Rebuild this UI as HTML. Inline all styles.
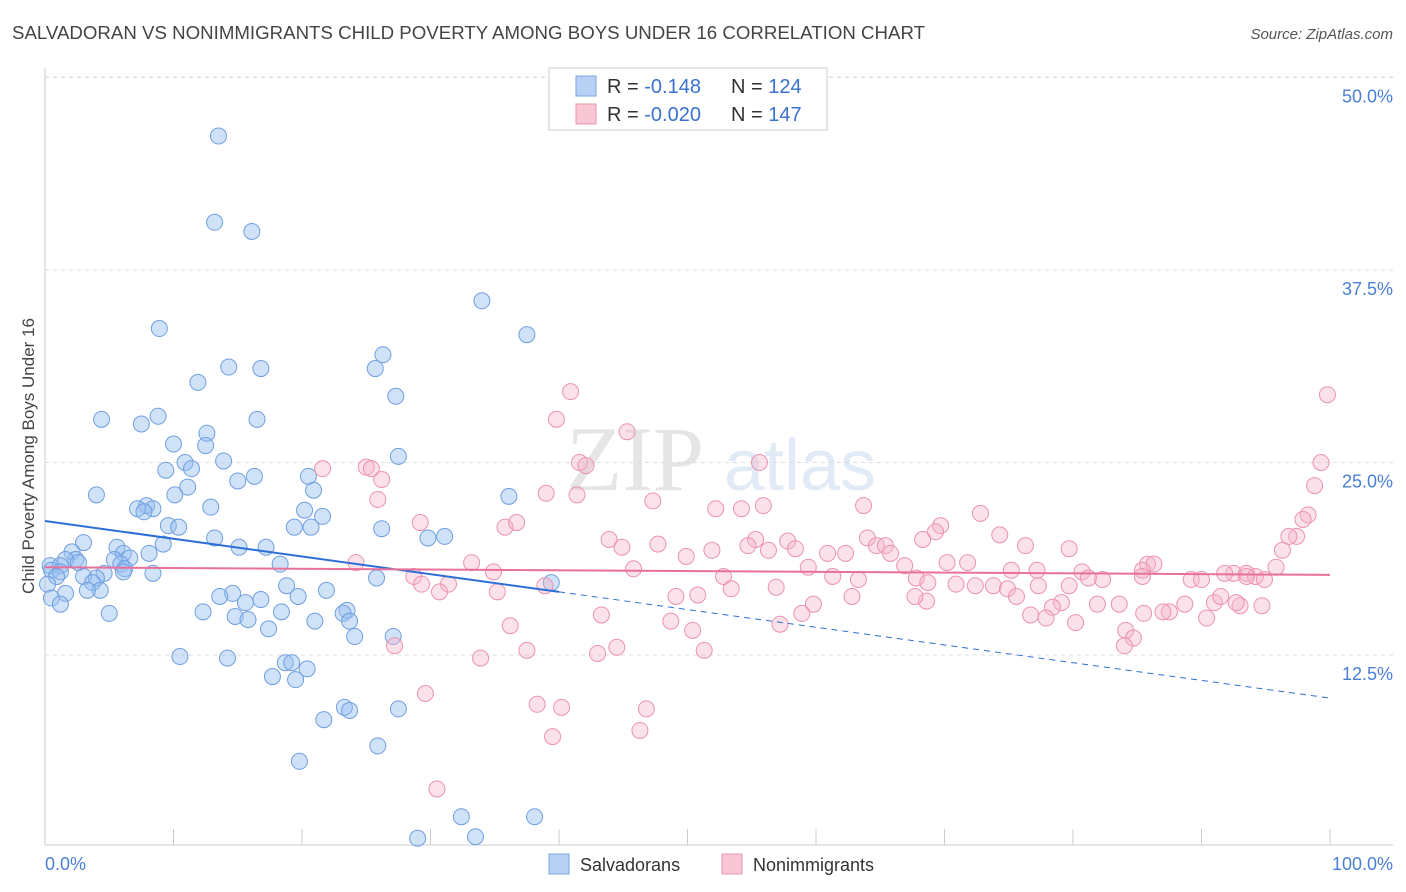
<!DOCTYPE html>
<html><head><meta charset="utf-8">
<style>
body{margin:0;background:#fff;width:1406px;height:892px;overflow:hidden;font-family:"Liberation Sans",sans-serif}
svg{display:block}
</style></head>
<body>
<svg id="chart" width="1406" height="892">
<text x="12" y="39" font-size="18" fill="#444" textLength="913" lengthAdjust="spacingAndGlyphs">SALVADORAN VS NONIMMIGRANTS CHILD POVERTY AMONG BOYS UNDER 16 CORRELATION CHART</text>
<text x="1393" y="39" font-size="15" fill="#555" font-style="italic" text-anchor="end">Source: ZipAtlas.com</text>
<g opacity="0.25">
<text x="635" y="490" font-size="92" font-family="Liberation Serif,serif" fill="#999" text-anchor="middle">ZIP</text>
<text x="800" y="490" font-size="72" fill="#8ab0e0" text-anchor="middle">atlas</text>
</g>
<g id="grid"></g>
<g id="axes"></g>
<g id="points"></g>
<g id="lines"></g>
<text transform="translate(34,456) rotate(-90)" font-size="17" fill="#444" text-anchor="middle">Child Poverty Among Boys Under 16</text>
<text x="45" y="870" font-size="18" fill="#4a7fd6">0.0%</text>
<text x="1393" y="870" font-size="18" fill="#4a7fd6" text-anchor="end">100.0%</text>
<g>
<rect x="549" y="68" width="278" height="62" fill="#fff" stroke="#ccc"/>
<rect x="576" y="76" width="20" height="20" fill="#b7d1f4" stroke="#7aa6e2"/>
<rect x="576" y="104" width="20" height="20" fill="#f8c6d4" stroke="#e897b0"/>
<text x="607" y="93" font-size="20" fill="#333">R = <tspan fill="#3a72d0">-0.148</tspan><tspan x="731">N = </tspan><tspan fill="#3a72d0">124</tspan></text>
<text x="607" y="121" font-size="20" fill="#333">R = <tspan fill="#3a72d0">-0.020</tspan><tspan x="731">N = </tspan><tspan fill="#3a72d0">147</tspan></text>
</g>
<g>
<rect x="549" y="854" width="20" height="20" fill="#b7d1f4" stroke="#7aa6e2"/>
<text x="580" y="871" font-size="18" fill="#333">Salvadorans</text>
<text x="753" y="871" font-size="18" fill="#333">Nonimmigrants</text>
<rect x="722" y="854" width="20" height="20" fill="#f8c6d4" stroke="#e897b0"/>
</g>
</svg>
<script>
const yTicks=[12.5,25,37.5,50];
const xTicks=[0,10,20,30,40,50,60,70,80,90,100];
const blueX=[13.5,13.2,16.1,34.0,8.9,37.5,26.3,14.3,16.8,11.9,25.7,27.3,4.4,8.8,7.5,16.5,12.6,10.0,12.5,27.5,10.9,13.9,9.4,11.4,16.3,15.0,20.5,4.0,11.1,10.1,20.9,36.1,7.9,7.2,8.4,12.9,7.7,20.2,21.6,9.6,10.4,19.4,20.7,26.2,29.8,31.1,13.2,9.2,3.0,15.1,17.2,2.1,8.1,5.6,6.1,2.4,5.4,6.6,1.6,2.6,5.9,18.3,0.4,1.2,6.2,0.5,1.2,8.4,6.1,4.6,3.0,25.8,39.4,0.9,4.0,3.7,18.8,0.2,4.3,3.3,21.9,1.6,0.5,14.6,13.6,1.2,19.7,15.6,16.8,23.5,23.2,12.3,18.4,5.0,14.8,15.8,21.0,23.7,17.4,24.1,27.1,10.5,14.2,18.7,19.2,20.4,17.7,19.5,23.3,23.7,27.5,21.7,25.9,19.8,32.4,29.0,33.5,38.1];
const blueY=[46.2,40.6,40.0,35.5,33.7,33.3,32.0,31.2,31.1,30.2,31.1,29.3,27.8,28.0,27.5,27.8,26.9,26.2,26.1,25.4,25.0,25.1,24.5,24.6,24.1,23.8,24.1,22.9,23.4,22.9,23.2,22.8,22.2,22.0,22.0,22.1,21.8,21.9,21.5,20.9,20.8,20.8,20.8,20.7,20.1,20.2,20.1,19.7,19.8,19.5,19.5,19.2,19.1,19.5,19.1,18.7,18.7,18.8,18.7,18.5,18.4,18.4,18.3,18.3,18.1,18.0,17.9,17.8,17.9,17.8,17.6,17.5,17.2,17.6,17.5,17.2,17.0,17.1,16.7,16.7,16.7,16.5,16.2,16.5,16.3,15.8,16.3,15.9,16.1,15.4,15.2,15.3,15.3,15.2,15.0,14.8,14.7,14.7,14.2,13.7,13.7,12.4,12.3,12.0,12.0,11.6,11.1,10.9,9.1,8.9,9.0,8.3,6.6,5.6,2.0,0.6,0.7,2.0];
const pinkX=[40.9,99.8,39.8,45.3,21.6,25.0,41.6,42.1,55.6,99.3,25.4,26.2,39.0,41.4,47.3,25.9,98.8,52.2,54.2,55.9,63.7,72.8,98.3,35.8,36.7,29.2,69.7,69.3,97.9,97.4,96.8,43.9,64.0,55.3,57.8,44.9,47.7,54.7,74.3,76.3,79.7,96.3,51.9,49.9,56.3,58.4,64.7,65.4,65.8,60.9,62.3,68.3,33.2,24.2,45.8,70.2,71.8,85.8,86.3,59.4,66.9,85.4,75.2,77.2,80.7,92.5,93.5,94.2,91.8,95.8,94.9,93.5,34.9,28.7,52.8,61.3,63.3,67.8,82.3,89.2,90.0,81.2,85.4,70.9,68.7,72.4,73.8,74.9,77.3,79.7,29.3,38.9,31.4,56.9,53.4,30.7,35.2,49.1,50.8,62.8,68.6,81.9,83.6,91.0,91.5,79.1,78.4,75.6,59.8,67.7,88.7,87.5,93.0,94.7,87.0,85.5,90.4,92.7,43.3,58.9,76.7,77.9,80.2,57.2,36.2,48.7,50.4,84.1,84.7,84.0,27.2,43.0,44.5,37.5,51.3,33.9,29.6,38.3,40.2,46.8,39.5,46.3,30.5];
const pinkY=[29.6,29.4,27.8,27.0,24.6,24.7,25.0,24.8,25.0,25.0,24.6,23.9,23.0,22.9,22.5,22.6,23.5,22.0,22.0,22.2,22.2,21.7,21.6,20.8,21.1,21.1,20.9,20.5,21.3,20.2,20.2,20.0,20.1,20.0,19.9,19.5,19.7,19.6,20.3,19.6,19.4,19.3,19.3,18.9,19.3,19.4,19.6,19.6,19.1,19.1,19.1,20.0,18.5,18.5,18.1,18.5,18.5,18.4,18.4,18.2,18.3,18.0,18.0,18.0,17.9,17.8,17.8,17.6,17.8,18.2,17.4,17.6,17.9,17.6,17.6,17.6,17.4,17.5,17.4,17.4,17.4,17.5,17.6,17.1,17.2,17.0,17.0,16.8,17.0,17.0,17.1,17.0,17.1,16.9,16.8,16.6,16.6,16.3,16.4,16.3,16.0,15.8,15.8,15.9,16.3,15.9,15.6,16.3,15.8,16.3,15.8,15.3,15.7,15.7,15.3,15.2,14.9,15.9,15.1,15.2,15.1,14.9,14.6,14.5,14.4,14.7,14.1,14.1,13.6,13.1,13.1,12.6,13.0,12.8,12.8,12.3,10.0,9.3,9.1,9.0,7.2,7.6,3.8];
const blueTrend=[21.2,9.7];
const pinkTrend=[18.2,17.7];
const blueSolidEnd=40;
const NS='http://www.w3.org/2000/svg';
const X=v=>45+v*12.85, Y=v=>847.5-v*15.4;
function mk(tag,attrs,parent){const e=document.createElementNS(NS,tag);for(const k in attrs)e.setAttribute(k,attrs[k]);parent.appendChild(e);return e;}
const grid=document.getElementById('grid'),axes=document.getElementById('axes'),pts=document.getElementById('points'),lines=document.getElementById('lines');
mk('line',{x1:45,y1:Y(50)-0.5,x2:1393,y2:Y(50)-0.5,stroke:'#ddd','stroke-dasharray':'4,4'},grid);
yTicks.forEach(t=>{
 const l=mk('line',{x1:45,y1:Y(t),x2:1393,y2:Y(t),stroke:'#ddd','stroke-dasharray':'4,4'},grid);
 
 
 const tx=mk('text',{x:1393,y:Y(t)+25,'font-size':18,fill:'#4a7fd6','text-anchor':'end'},grid);
 tx.textContent=t.toFixed(1)+'%';
 
 
});
const xa=mk('line',{x1:45,y1:845,x2:1393,y2:845,stroke:'#ccc'},axes);


const ya=mk('line',{x1:45,y1:68,x2:45,y2:845,stroke:'#ccc'},axes);


xTicks.forEach(t=>{
 const l=mk('line',{x1:X(t),y1:829,x2:X(t),y2:845,stroke:'#ccc'},axes);
 
 
});
blueX.forEach((v,i)=>{
 const c=mk('circle',{cx:X(v),cy:Y(blueY[i]),r:8,fill:'rgba(150,190,240,0.45)',stroke:'#6f9fe0','stroke-width':1},pts);
 
 
});
pinkX.forEach((v,i)=>{
 const c=mk('circle',{cx:X(v),cy:Y(pinkY[i]),r:8,fill:'rgba(245,180,200,0.4)',stroke:'#eb93b0','stroke-width':1},pts);
 
 
});
const bAt=x=>blueTrend[0]+(blueTrend[1]-blueTrend[0])*x/100;
const b1=mk('line',{x1:X(0),y1:Y(bAt(0)),x2:X(blueSolidEnd),y2:Y(bAt(blueSolidEnd)),stroke:'#2d6fd6','stroke-width':2},lines);


const b2=mk('line',{x1:X(blueSolidEnd),y1:Y(bAt(blueSolidEnd)),x2:X(100),y2:Y(bAt(100)),stroke:'#2d6fd6','stroke-width':1,'stroke-dasharray':'6,5'},lines);


const p1=mk('line',{x1:X(0),y1:Y(pinkTrend[0]),x2:X(100),y2:Y(pinkTrend[1]),stroke:'#e8709a','stroke-width':2},lines);


</script>
</body></html>
